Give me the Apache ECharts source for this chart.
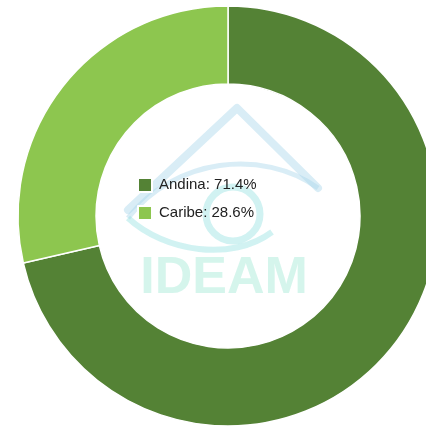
<!DOCTYPE html>
<html>
<head>
<meta charset="utf-8">
<script src="https://cdn.jsdelivr.net/npm/echarts@6/dist/echarts.min.js"></script>
<style>
  html, body { margin: 0; padding: 0; background: #fff; }
  #chart { width: 426px; height: 428px; }
</style>
</head>
<body>
<div id="chart"></div>
<script>
// Regions and their share of the total (percent)
const regions = ['Andina', 'Caribe'];
const shares = [71.4, 28.6];
const regionColors = ['#548235', '#8dc64f'];

const chart = echarts.init(document.getElementById('chart'), null, { renderer: 'canvas' });

const pieData = regions.map((name, i) => ({
  name: name,
  value: shares[i],
  itemStyle: { color: regionColors[i] }
}));

// Faint IDEAM logo behind the legend
const logoBlue = 'rgba(170, 214, 236, 0.45)';
const logoCyan = 'rgba(140, 222, 222, 0.4)';
const watermark = [
  {
    type: 'polyline', silent: true, z: 0,
    shape: { points: [[128, 210], [237, 108], [318, 188]] },
    style: { stroke: logoBlue, lineWidth: 8, fill: null, lineJoin: 'round', lineCap: 'round' }
  },
  {
    type: 'bezierCurve', silent: true, z: 0,
    shape: { x1: 128, y1: 218, cpx1: 175, cpy1: 158, cpx2: 262, cpy2: 148, x2: 318, y2: 188 },
    style: { stroke: logoBlue, lineWidth: 5, fill: null }
  },
  {
    type: 'bezierCurve', silent: true, z: 0,
    shape: { x1: 128, y1: 218, cpx1: 165, cpy1: 252, cpx2: 232, cpy2: 262, x2: 272, y2: 232 },
    style: { stroke: logoCyan, lineWidth: 6, fill: null }
  },
  {
    type: 'circle', silent: true, z: 0,
    shape: { cx: 233, cy: 214, r: 27 },
    style: { stroke: logoCyan, lineWidth: 7, fill: null }
  },
  {
    type: 'text', silent: true, z: 0,
    style: {
      text: 'IDEAM', x: 224, y: 279, align: 'center', verticalAlign: 'middle',
      font: 'bold 52px "Liberation Sans", Arial, sans-serif',
      fill: 'rgba(190, 240, 226, 0.65)'
    }
  }
];

chart.setOption({
  animation: false,
  backgroundColor: '#ffffff',
  graphic: { elements: watermark },
  legend: {
    orient: 'vertical',
    left: 137,
    top: 177,
    padding: 0,
    itemWidth: 14,
    itemHeight: 14,
    itemGap: 12,
    icon: 'rect',
    selectedMode: false,
    z: 5,
    data: regions,
    formatter: function (name) {
      const i = regions.indexOf(name);
      return name + ': ' + shares[i].toFixed(1) + '%';
    },
    textStyle: {
      fontFamily: '"Liberation Sans", Arial, sans-serif',
      fontSize: 15,
      color: '#222',
      padding: [0, 0, 0, 2]
    }
  },
  series: [{
    type: 'pie',
    center: [228, 216],
    radius: [132, 210],
    startAngle: 90,
    clockwise: true,
    label: { show: false },
    labelLine: { show: false },
    emphasis: { disabled: true },
    itemStyle: { borderColor: '#ffffff', borderWidth: 1.5 },
    data: pieData
  }]
});
</script>
</body>
</html>
